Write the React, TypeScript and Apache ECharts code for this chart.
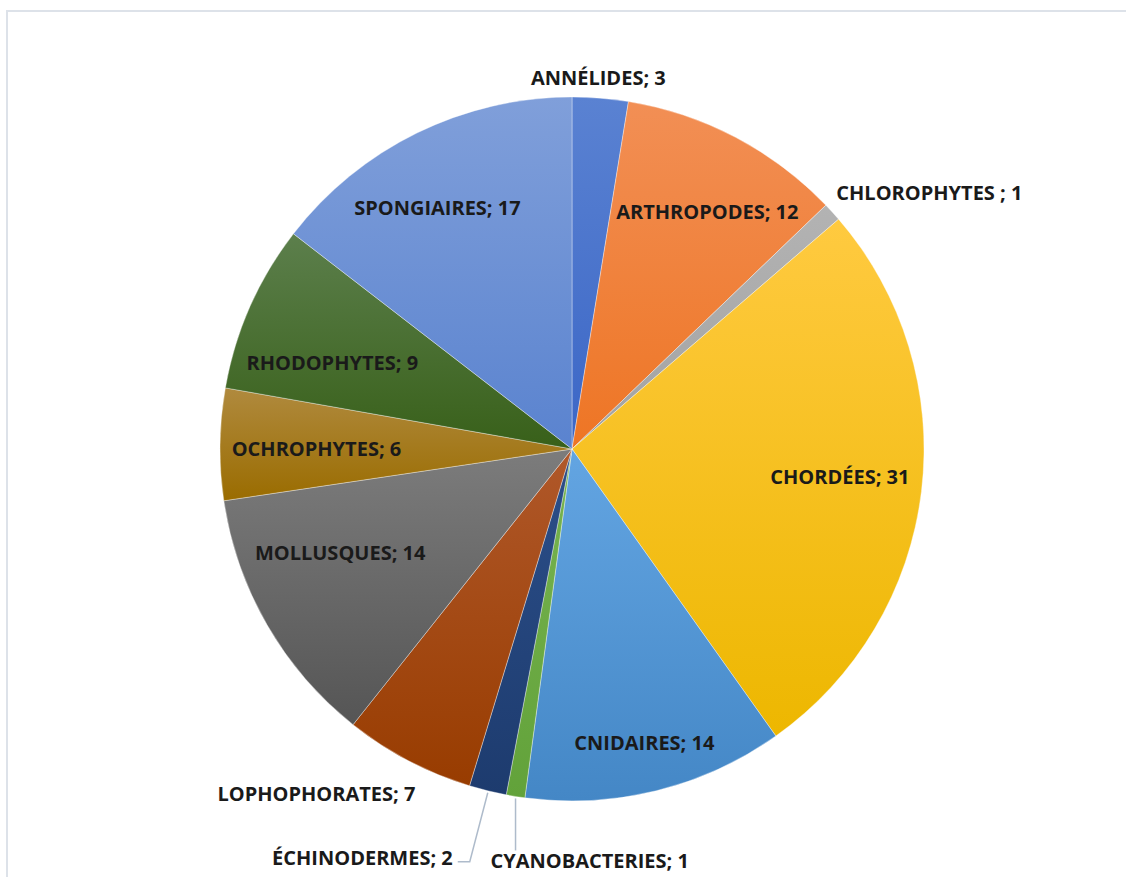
import React, { useEffect, useRef } from "react";
import * as echarts from "echarts";

const CATEGORIES = [
  "ANNÉLIDES",
  "ARTHROPODES",
  "CHLOROPHYTES ",
  "CHORDÉES",
  "CNIDAIRES",
  "CYANOBACTERIES",
  "ÉCHINODERMES",
  "LOPHOPHORATES",
  "MOLLUSQUES",
  "OCHROPHYTES",
  "RHODOPHYTES",
  "SPONGIAIRES",
];
const VALUES = [3, 12, 1, 31, 14, 1, 2, 7, 14, 6, 9, 17];

const COLORS_TOP = [
  "#5A82D2", "#F28F55", "#B3B3B3", "#FFCA40", "#63A5E2", "#78B451",
  "#2C4F8A", "#B0582A", "#7C7C7C", "#B08A3E", "#5C7F4C", "#809FDA",
];
const COLORS_BOTTOM = [
  "#3B66C6", "#EE7524", "#A2A2A2", "#EDB700", "#4487C6", "#62A23A",
  "#1D3B6E", "#983C00", "#555555", "#9A6C00", "#386019", "#5A83CF",
];

// inside-label placement (fraction of radius, angle tweak in degrees)
const LABEL_R = [0, 0.776, 0, 0.765, 0.859, 0, 0, 0, 0.721, 0.726, 0.724, 0.785];
const LABEL_DA = [0, 2, 0, -1, 0, 0, 0, 0, 6, -0.6, -4, -3];

const CX = 572;
const CY = 449;
const R = 352;

export default function App() {
  const ref = useRef<HTMLDivElement>(null);

  useEffect(() => {
    if (!ref.current) return;
    const chart = echarts.init(ref.current, undefined, { renderer: "svg" });
    const total = VALUES.reduce((a, b) => a + b, 0);
    const cums: number[] = [];
    let acc = 0;
    VALUES.forEach((v) => {
      cums.push(acc);
      acc += v;
    });
    const midAngle = (i: number) => ((cums[i] + VALUES[i] / 2) / total) * Math.PI * 2;
    const edge = (i: number) => {
      const a = midAngle(i);
      return [CX + R * Math.sin(a), CY - R * Math.cos(a)];
    };

    const data = CATEGORIES.map((name, i) => ({
      name,
      value: VALUES[i],
      itemStyle: {
        color: {
          type: "linear",
          x: 0,
          y: 0,
          x2: 0,
          y2: 1,
          colorStops: [
            { offset: 0, color: COLORS_TOP[i] },
            { offset: 1, color: COLORS_BOTTOM[i] },
          ],
        },
      },
      labelLine: { show: i === 5 || i === 6 },
    }));

    chart.setOption({
      animation: false,
      backgroundColor: "#ffffff",
      graphic: [
        {
          type: "rect",
          shape: { x: 7, y: 11, width: 1300, height: 1000 },
          style: { fill: "none", stroke: "#DDE2E9", lineWidth: 2 },
          silent: true,
        },
      ],
      series: [
        {
          type: "pie",
          center: [CX, CY],
          radius: R,
          startAngle: 90,
          clockwise: true,
          avoidLabelOverlap: false,
          data,
          itemStyle: { borderColor: "rgba(255,255,255,0.45)", borderWidth: 0.8 },
          label: {
            show: true,
            position: "outside",
            formatter: "{b}; {c}",
            fontFamily: "Open Sans",
            fontWeight: "bold",
            fontSize: 20,
            color: "#1A1A1A",
          },
          labelLine: {
            show: false,
            lineStyle: { color: "#AEBBCB", width: 1.5 },
          },
          labelLayout: (p: any) => {
            const i = p.dataIndex;
            const [ex, ey] = edge(i);
            if (i === 0) {
              return { x: ex - 2, y: ey - 21, align: "center", verticalAlign: "middle" };
            }
            if (i === 2) {
              return { x: ex + 4, y: ey - 20, align: "left", verticalAlign: "middle" };
            }
            if (i === 7) {
              return { x: ex + 7, y: ey + 33, align: "right", verticalAlign: "middle" };
            }
            if (i === 6) {
              return {
                x: ex - 35,
                y: ey + 67,
                align: "right",
                verticalAlign: "middle",
                labelLinePoints: [
                  [ex, ey + 2],
                  [ex - 18, ey + 71],
                  [ex - 30, ey + 71],
                ],
              };
            }
            if (i === 5) {
              return {
                x: ex - 25,
                y: ey + 64,
                align: "left",
                verticalAlign: "middle",
                labelLinePoints: [
                  [ex, ey + 2],
                  [ex, ey + 54],
                  [ex, ey + 54],
                ],
              };
            }
            const a = midAngle(i) + (LABEL_DA[i] * Math.PI) / 180;
            const r = R * LABEL_R[i];
            return {
              x: CX + r * Math.sin(a),
              y: CY - r * Math.cos(a),
              align: "center",
              verticalAlign: "middle",
            };
          },
        },
      ],
    });
    return () => chart.dispose();
  }, []);

  return (
    <div
      ref={ref}
      style={{ position: "fixed", left: 0, top: 0, width: 1126, height: 877 }}
    />
  );
}
